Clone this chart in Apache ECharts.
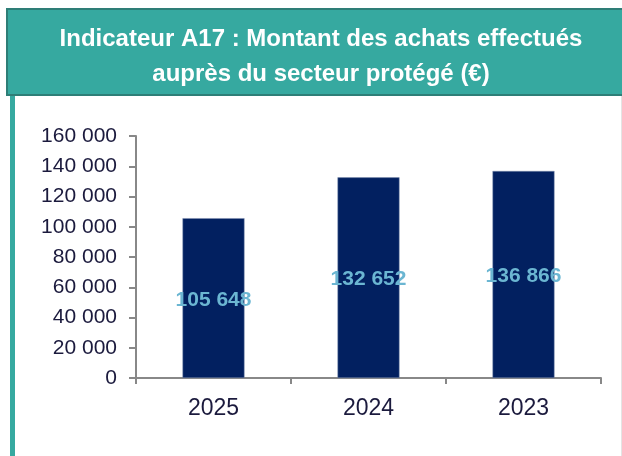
<!DOCTYPE html>
<html>
<head>
<meta charset="utf-8">
<script src="https://cdn.jsdelivr.net/npm/echarts@6/dist/echarts.min.js"></script>
<style>
html,body{margin:0;padding:0;background:#fff;}
#chart{width:622px;height:456px;}
</style>
</head>
<body>
<div id="chart"></div>
<script>
// data
var years = ["2025", "2024", "2023"];
var montants = [105648, 132652, 136866];
var yTicks = [0, 20000, 40000, 60000, 80000, 100000, 120000, 140000, 160000];

// format "105 648"
function fmt(v) {
    return String(v).replace(/\B(?=(\d{3})+(?!\d))/g, " ");
}

var chart = echarts.init(document.getElementById("chart"));

var option = {
    animation: false,
    backgroundColor: "#fff",
    title: {
        text: "Indicateur A17 : Montant des achats effectués\nauprès du secteur protégé (€)",
        left: 316,
        top: 17,
        textAlign: "center",
        textStyle: {
            color: "#fff",
            fontFamily: "Liberation Sans",
            fontWeight: "bold",
            fontSize: 24,
            lineHeight: 35
        }
    },
    graphic: [
        {   // title box
            type: "rect",
            z: -1,
            shape: {x: 7, y: 9, width: 620, height: 86},
            style: {fill: "#36A9A0", stroke: "#2E7E77", lineWidth: 2}
        },
        {   // left green stripe
            type: "rect",
            z: -1,
            shape: {x: 10, y: 96, width: 5, height: 360},
            style: {fill: "#36A9A0"}
        },
        {   // right thin border
            type: "rect",
            z: -1,
            shape: {x: 621, y: 96, width: 1, height: 360},
            style: {fill: "#e4e4e4"}
        }
    ],
    grid: {left: 136, right: 21, top: 136, bottom: 78},
    xAxis: {
        type: "category",
        data: years,
        axisLine: {lineStyle: {color: "#888", width: 2}},
        axisTick: {show: true, length: 6, lineStyle: {color: "#888", width: 2}},
        axisLabel: {
            color: "#1b1a3d",
            fontFamily: "Liberation Sans",
            fontSize: 23,
            margin: 19
        }
    },
    yAxis: {
        type: "value",
        min: yTicks[0],
        max: yTicks[yTicks.length - 1],
        interval: 20000,
        splitLine: {show: false},
        axisLine: {show: true, lineStyle: {color: "#888", width: 2}},
        axisTick: {show: true, length: 7, lineStyle: {color: "#888", width: 2}},
        axisLabel: {
            color: "#1b1a3d",
            fontFamily: "Liberation Sans",
            fontSize: 21,
            margin: 19,
            formatter: function (v) { return fmt(v); }
        }
    },
    series: [{
        type: "bar",
        data: montants,
        barWidth: "40%",
        itemStyle: {color: "#022060", borderColor: "#8090b0", borderWidth: 0.5},
        label: {
            show: true,
            position: "inside",
            offset: [0, 2],
            color: "#6BB6D2",
            fontFamily: "Liberation Sans",
            fontWeight: "bold",
            fontSize: 21,
            formatter: function (p) { return fmt(p.value); }
        }
    }]
};

chart.setOption(option);
</script>
</body>
</html>
